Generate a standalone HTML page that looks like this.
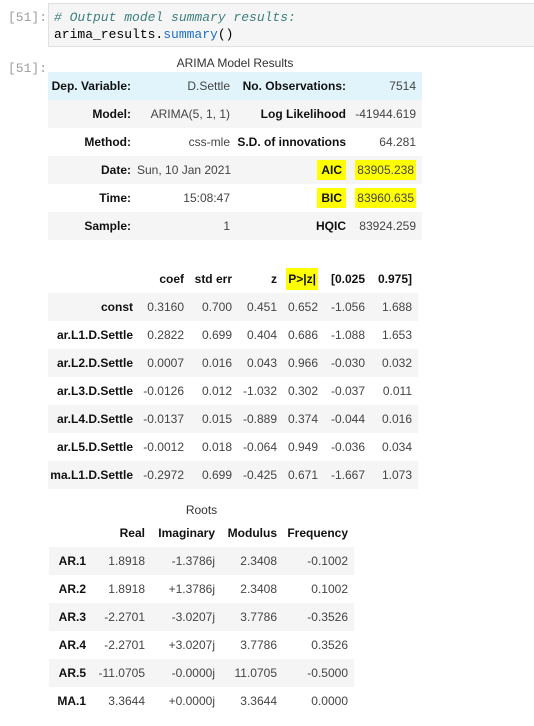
<!DOCTYPE html>
<html><head><meta charset="utf-8"><style>
body{margin:0;width:534px;height:726px;background:#fff;position:relative;overflow:hidden;font-family:"Liberation Sans",sans-serif;}
.prompt{position:absolute;left:8px;font-family:"Liberation Mono",monospace;font-size:13px;color:#9e9e9e;}
.code{position:absolute;left:48px;top:3px;width:490px;height:44px;background:#f5f5f5;border:1px solid #e0e0e0;box-sizing:border-box;font-family:"Liberation Mono",monospace;font-size:13px;line-height:17px;padding:5px 0 0 5px;color:#000;}
.cm{color:#408080;font-style:italic}
.fn{color:#1f6fc4}
table{position:absolute;border-collapse:collapse;table-layout:fixed;font-size:12px;color:#444;}
td,th{text-align:right;padding:0 6px 0 0;height:28px;white-space:nowrap;overflow:visible;}
th{font-weight:bold;color:#111;}
.g{background:#f5f5f5}
.b{background:#e1f4fc}
.title{position:absolute;font-size:12px;color:#333;text-align:center;}
.hl{background:#ffff00;}
</style></head><body>
<div class="prompt" style="top:10px">[51]:</div>
<div class="code"><span class="cm"># Output model summary results:</span><br>arima_results.<span class="fn">summary</span>()</div>
<div class="prompt" style="top:61px">[51]:</div>

<div class="title" style="left:48px;width:374px;top:56px">ARIMA Model Results</div>
<table style="left:48px;top:72px;width:374px">
<colgroup><col style="width:89px"><col style="width:99px"><col style="width:116px"><col style="width:70px"></colgroup>
<tr class="b"><th>Dep. Variable:</th><td>D.Settle</td><th>No. Observations:</th><td>7514</td></tr>
<tr class="g"><th>Model:</th><td>ARIMA(5, 1, 1)</td><th>Log Likelihood</th><td>-41944.619</td></tr>
<tr><th>Method:</th><td>css-mle</td><th>S.D. of innovations</th><td>64.281</td></tr>
<tr class="g"><th>Date:</th><td>Sun, 10 Jan 2021</td><th><span class="hl" style="padding:3px 4px">AIC</span></th><td><span class="hl" style="padding:3px 2px">83905.238</span></td></tr>
<tr><th>Time:</th><td>15:08:47</td><th><span class="hl" style="padding:3px 4px">BIC</span></th><td><span class="hl" style="padding:3px 2px">83960.635</span></td></tr>
<tr class="g"><th>Sample:</th><td>1</td><th>HQIC</th><td>83924.259</td></tr>
</table>

<table style="left:48px;top:265px;width:370px">
<colgroup><col style="width:91px"><col style="width:51px"><col style="width:48px"><col style="width:45px"><col style="width:41px"><col style="width:47px"><col style="width:47px"></colgroup>
<tr><th></th><th>coef</th><th>std err</th><th>z</th><th><span class="hl" style="padding:4px 2px">P&gt;|z|</span></th><th>[0.025</th><th>0.975]</th></tr>
<tr class="g"><th>const</th><td>0.3160</td><td>0.700</td><td>0.451</td><td>0.652</td><td>-1.056</td><td>1.688</td></tr>
<tr><th>ar.L1.D.Settle</th><td>0.2822</td><td>0.699</td><td>0.404</td><td>0.686</td><td>-1.088</td><td>1.653</td></tr>
<tr class="g"><th>ar.L2.D.Settle</th><td>0.0007</td><td>0.016</td><td>0.043</td><td>0.966</td><td>-0.030</td><td>0.032</td></tr>
<tr><th>ar.L3.D.Settle</th><td>-0.0126</td><td>0.012</td><td>-1.032</td><td>0.302</td><td>-0.037</td><td>0.011</td></tr>
<tr class="g"><th>ar.L4.D.Settle</th><td>-0.0137</td><td>0.015</td><td>-0.889</td><td>0.374</td><td>-0.044</td><td>0.016</td></tr>
<tr><th>ar.L5.D.Settle</th><td>-0.0012</td><td>0.018</td><td>-0.064</td><td>0.949</td><td>-0.036</td><td>0.034</td></tr>
<tr class="g"><th>ma.L1.D.Settle</th><td>-0.2972</td><td>0.699</td><td>-0.425</td><td>0.671</td><td>-1.667</td><td>1.073</td></tr>
</table>

<div class="title" style="left:49px;width:305px;top:503px">Roots</div>
<table style="left:49px;top:519px;width:305px">
<colgroup><col style="width:43px"><col style="width:59px"><col style="width:70px"><col style="width:62px"><col style="width:71px"></colgroup>
<tr><th></th><th>Real</th><th>Imaginary</th><th>Modulus</th><th>Frequency</th></tr>
<tr class="g"><th>AR.1</th><td>1.8918</td><td>-1.3786j</td><td>2.3408</td><td>-0.1002</td></tr>
<tr><th>AR.2</th><td>1.8918</td><td>+1.3786j</td><td>2.3408</td><td>0.1002</td></tr>
<tr class="g"><th>AR.3</th><td>-2.2701</td><td>-3.0207j</td><td>3.7786</td><td>-0.3526</td></tr>
<tr><th>AR.4</th><td>-2.2701</td><td>+3.0207j</td><td>3.7786</td><td>0.3526</td></tr>
<tr class="g"><th>AR.5</th><td>-11.0705</td><td>-0.0000j</td><td>11.0705</td><td>-0.5000</td></tr>
<tr><th>MA.1</th><td>3.3644</td><td>+0.0000j</td><td>3.3644</td><td>0.0000</td></tr>
</table>
</body></html>
